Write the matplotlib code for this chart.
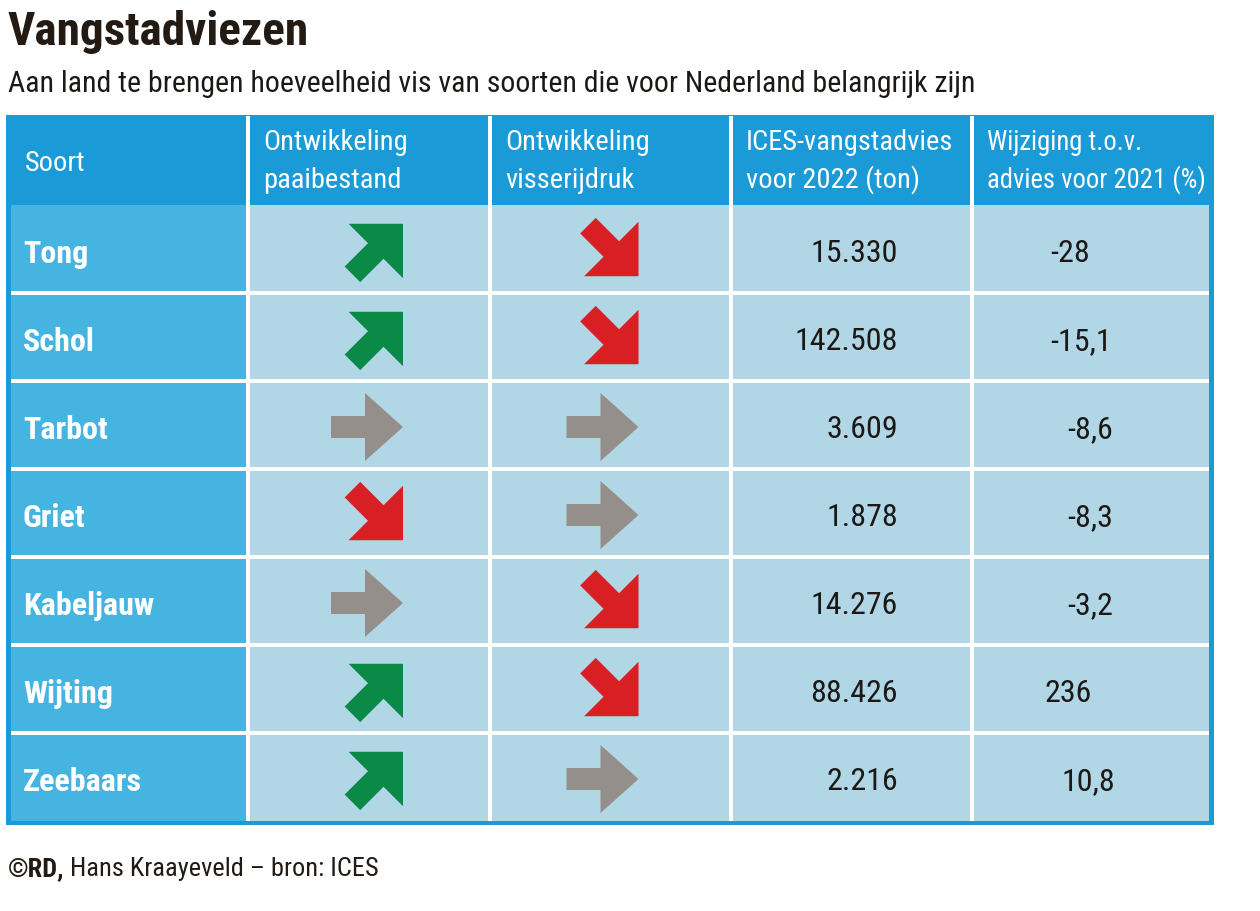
import numpy as np
import matplotlib
matplotlib.use("Agg")
import matplotlib.pyplot as plt
from matplotlib.patches import Rectangle, Polygon
from matplotlib import font_manager

# ---------------- data ----------------
title = "Vangstadviezen"
subtitle = "Aan land te brengen hoeveelheid vis van soorten die voor Nederland belangrijk zijn"
headers = ["Soort", "Ontwikkeling\npaaibestand", "Ontwikkeling\nvisserijdruk",
           "ICES-vangstadvies\nvoor 2022 (ton)", "Wijziging t.o.v.\nadvies voor 2021 (%)"]
species = ["Tong", "Schol", "Tarbot", "Griet", "Kabeljauw", "Wijting", "Zeebaars"]
paaibestand = ["up", "up", "flat", "down", "flat", "up", "up"]
visserijdruk = ["down", "down", "flat", "flat", "down", "down", "flat"]
advies_2022 = [15330, 142508, 3609, 1878, 14276, 88426, 2216]
wijziging_2021 = [-28, -15.1, -8.6, -8.3, -3.2, 236, 10.8]
footer_bold = "©RD,"
footer_rest = " Hans Kraayeveld – bron: ICES"

# ---------------- style / layout ----------------
W, H = 1260, 911
names = {f.name for f in font_manager.fontManager.ttflist}
FAM = [f for f in ["Roboto Condensed", "Liberation Sans Narrow", "Open Sans Condensed",
                   "Liberation Sans", "DejaVu Sans"] if f in names] or ["DejaVu Sans"]

C_HEAD = "#1a9ad6"
C_FIRST = "#46b4e0"
C_CELL = "#b1d7e7"
C_GREEN = "#0b8a47"
C_RED = "#d81f24"
C_GREY = "#958f8c"
C_TXT = "#1c1815"
C_TITLE = "#231a14"
ARROW_COL = {"up": C_GREEN, "down": C_RED, "flat": C_GREY}

col_edges = [7, 248, 490, 731, 972, 1213]
head_top, head_bot = 115, 205
row_h = 88
border = 4
gap = 4
pct_xoff = [78, 78, 95, 95, 95, 73, 89]   # left offset of % labels within their column
arrow_right = [34, 28]                     # arrow right edge relative to column centre
head_fs = [20.5, 20.5, 20.5, 20.5, 19.2]


def fmt_thousands(v):
    return f"{v:,}".replace(",", ".")


def fmt_pct(v):
    if float(v).is_integer():
        return f"{int(v)}"
    return f"{v}".replace(".", ",")


def arrow_poly(kind, right, cy):
    if kind == "flat":
        h, L, s, w = 34, 38, 34, 11
        bx = right - L
        pts = [(-s, -w), (0, -w), (0, -h), (L, 0), (0, h), (0, w), (-s, w)]
        return [(bx + x, cy + y) for x, y in pts]
    h = 38.5
    L, s, w = h, 33, 11
    pts = np.array([(-s, -w), (0, -w), (0, -h), (L, 0), (0, h), (0, w), (-s, w)], float)
    ang = np.deg2rad(-45 if kind == "up" else 45)   # y axis points down
    R = np.array([[np.cos(ang), -np.sin(ang)], [np.sin(ang), np.cos(ang)]])
    pts = pts @ R.T
    bx = right - L / np.sqrt(2)
    return [(bx + x, cy + y) for x, y in pts]


fig = plt.figure(figsize=(W / 100, H / 100), dpi=100)
fig.patch.set_facecolor("white")
ax = fig.add_axes([0, 0, 1, 1])
ax.set_xlim(0, W)
ax.set_ylim(H, 0)
ax.axis("off")

n = len(species)
body_bot = head_bot + n * row_h

# table background / border
ax.add_patch(Rectangle((col_edges[0] - 1, head_top), col_edges[-1] - col_edges[0] + 2,
                       body_bot + border - head_top, facecolor=C_HEAD, edgecolor="none"))
ax.add_patch(Rectangle((col_edges[0] + border, head_bot), col_edges[1] - col_edges[0] - border,
                       n * row_h, facecolor=C_FIRST, edgecolor="none"))
ax.add_patch(Rectangle((col_edges[1], head_bot), col_edges[-1] - border - col_edges[1],
                       n * row_h, facecolor=C_CELL, edgecolor="none"))
# white grid
for xe in col_edges[1:-1]:
    ax.add_patch(Rectangle((xe - gap / 2, head_top + 1), gap, body_bot - head_top - 1,
                           facecolor="white", edgecolor="none"))
for i in range(1, n):
    y = head_bot + i * row_h
    ax.add_patch(Rectangle((col_edges[0] + border, y - gap / 2),
                           col_edges[-1] - col_edges[0] - 2 * border, gap,
                           facecolor="white", edgecolor="none"))

# title texts
ax.text(8, 45, title, family=FAM, fontsize=34, fontweight="bold", color=C_TITLE,
        va="baseline", ha="left")
ax.text(8, 92, subtitle, family=FAM, fontsize=21.5, color=C_TXT, va="baseline", ha="left")

# headers
for j, htxt in enumerate(headers):
    x = col_edges[j] + (18 if j == 0 else 15)
    lines = htxt.split("\n")
    fs = head_fs[j]
    if len(lines) == 1:
        ax.text(x, 171, lines[0], family=FAM, fontsize=fs, color="white",
                va="baseline", ha="left")
    else:
        ax.text(x, 150, lines[0], family=FAM, fontsize=fs, color="white",
                va="baseline", ha="left")
        ax.text(x, 188, lines[1], family=FAM, fontsize=fs, color="white",
                va="baseline", ha="left")

# rows
for i in range(n):
    rc = head_bot + i * row_h + row_h / 2
    ax.text(col_edges[0] + 16, rc + 14, species[i], family=FAM, fontsize=23,
            fontweight="bold", color="white", va="baseline", ha="left")
    for k, kind in enumerate([paaibestand[i], visserijdruk[i]]):
        ccx = (col_edges[k + 1] + col_edges[k + 2]) / 2
        right = ccx + arrow_right[k]
        cy = rc + (2 if kind != "down" else 0)
        ax.add_patch(Polygon(arrow_poly(kind, right, cy), closed=True,
                             facecolor=ARROW_COL[kind], edgecolor="none"))
    ax.text(col_edges[3] + 167, rc + 13, fmt_thousands(advies_2022[i]), family=FAM,
            fontsize=23, color=C_TXT, va="baseline", ha="right")
    ax.text(col_edges[4] + pct_xoff[i], rc + 13, fmt_pct(wijziging_2021[i]), family=FAM,
            fontsize=23, color=C_TXT, va="baseline", ha="left")

# footer
t1 = ax.text(8, 876, footer_bold, family=FAM, fontsize=19, fontweight="bold",
             color=C_TITLE, va="baseline", ha="left")
fig.canvas.draw()
bb = t1.get_window_extent(renderer=fig.canvas.get_renderer())
x_end = ax.transData.inverted().transform((bb.x1, bb.y0))[0]
ax.text(x_end, 876, footer_rest, family=FAM, fontsize=19, color=C_TITLE,
        va="baseline", ha="left")

fig.savefig("out.png", dpi=100, facecolor="white")
